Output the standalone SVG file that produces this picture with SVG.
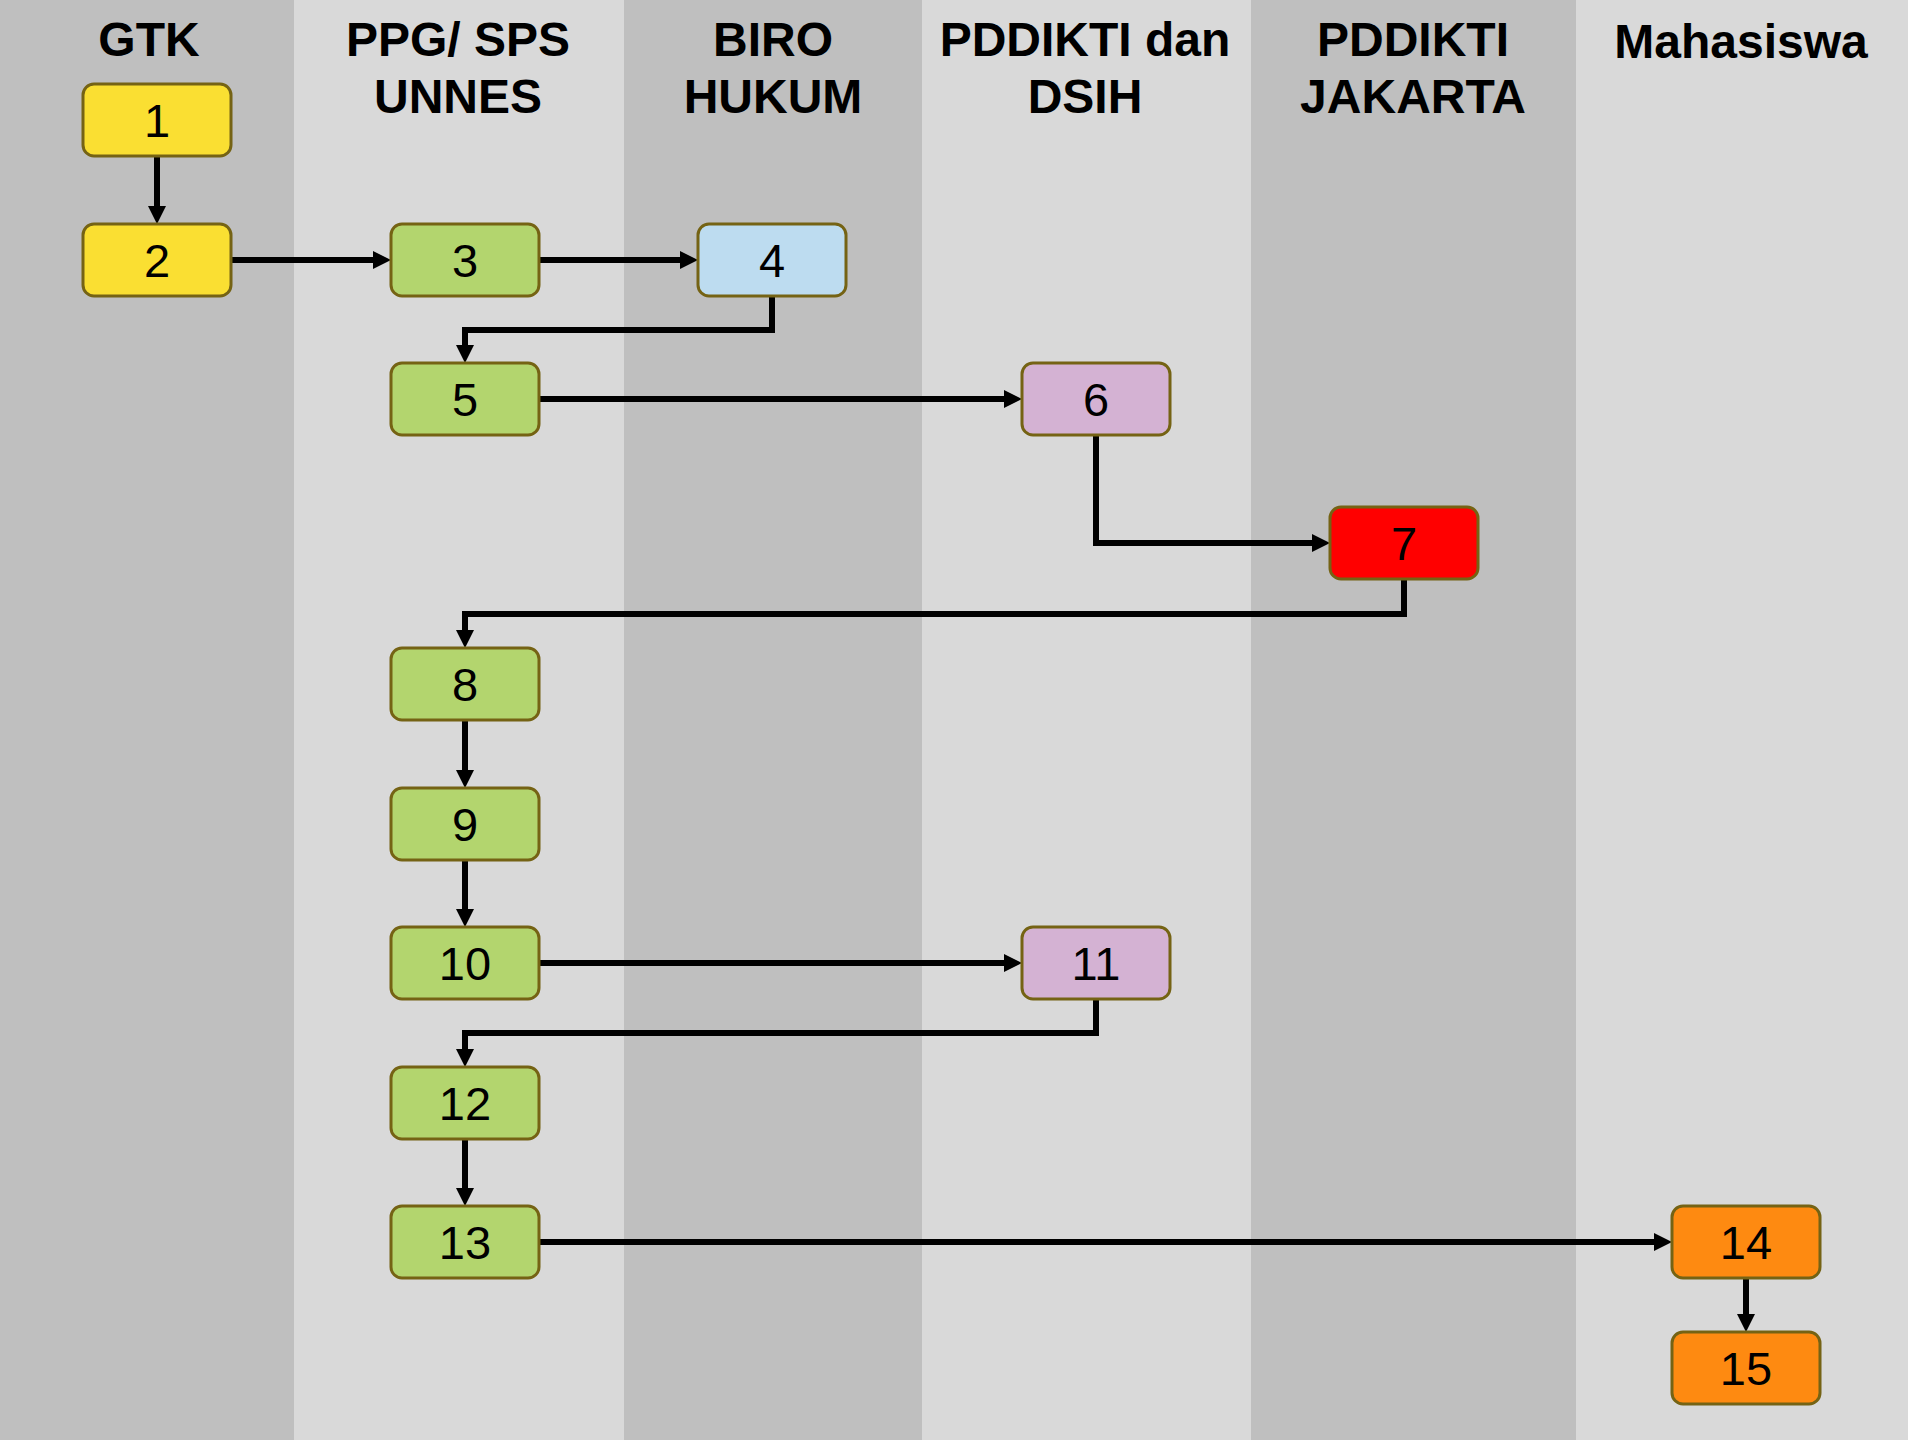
<svg xmlns="http://www.w3.org/2000/svg" width="1908" height="1440" viewBox="0 0 1908 1440">
<defs>
<style>
.lane-d{fill:#BFBFBF}
.lane-l{fill:#D9D9D9}
.hdr{font-family:"Liberation Sans",Arial,sans-serif;font-weight:bold;font-size:48px;fill:#000;text-anchor:middle}
.box{stroke:#756314;stroke-width:3}
.num{font-family:"Liberation Sans",Arial,sans-serif;font-size:47px;fill:#000;text-anchor:middle}
.yel{fill:#FADF32}
.grn{fill:#B3D56E}
.blu{fill:#BDDCF0}
.pur{fill:#D4B2D3}
.red{fill:#FF0000}
.org{fill:#FE8A11}
.con{fill:none;stroke:#000;stroke-width:6;stroke-linejoin:miter;marker-end:url(#ah)}
</style>
<marker id="ah" viewBox="0 0 18 18" markerWidth="18" markerHeight="18" refX="6" refY="9" orient="auto" markerUnits="userSpaceOnUse">
<path d="M0,0 L18,9 L0,18 Z" fill="#000"/>
</marker>
</defs>
<g id="lanes">
<rect class="lane-d" x="0" y="0" width="294" height="1440"/>
<rect class="lane-l" x="294" y="0" width="330" height="1440"/>
<rect class="lane-d" x="624" y="0" width="298" height="1440"/>
<rect class="lane-l" x="922" y="0" width="329" height="1440"/>
<rect class="lane-d" x="1251" y="0" width="325" height="1440"/>
<rect class="lane-l" x="1576" y="0" width="332" height="1440"/>
</g>
<g id="headers">
<text class="hdr" x="149" y="56">GTK</text>
<text class="hdr" x="458" y="56">PPG/ SPS</text>
<text class="hdr" x="458" y="113">UNNES</text>
<text class="hdr" x="773" y="56">BIRO</text>
<text class="hdr" x="773" y="113">HUKUM</text>
<text class="hdr" x="1085" y="56">PDDIKTI dan</text>
<text class="hdr" x="1085" y="113">DSIH</text>
<text class="hdr" x="1413" y="56">PDDIKTI</text>
<text class="hdr" x="1413" y="113">JAKARTA</text>
<text class="hdr" x="1741" y="58">Mahasiswa</text>
</g>
<g id="connectors">
<path class="con" d="M157,156 V212"/>
<path class="con" d="M231,260 H379"/>
<path class="con" d="M539,260 H686"/>
<path class="con" d="M772,296 V330 H465 V351"/>
<path class="con" d="M539,399 H1010"/>
<path class="con" d="M1096,435 V543 H1318"/>
<path class="con" d="M1404,579 V614 H465 V636"/>
<path class="con" d="M465,720 V776"/>
<path class="con" d="M465,860 V915"/>
<path class="con" d="M539,963 H1010"/>
<path class="con" d="M1096,999 V1033 H465 V1055"/>
<path class="con" d="M465,1139 V1194"/>
<path class="con" d="M539,1242 H1660"/>
<path class="con" d="M1746,1278 V1320"/>
</g>
<g id="n1"><rect class="box yel" x="83" y="84" width="148" height="72" rx="11"/><text class="num" x="157" y="137">1</text></g>
<g id="n2"><rect class="box yel" x="83" y="224" width="148" height="72" rx="11"/><text class="num" x="157" y="277">2</text></g>
<g id="n3"><rect class="box grn" x="391" y="224" width="148" height="72" rx="11"/><text class="num" x="465" y="277">3</text></g>
<g id="n4"><rect class="box blu" x="698" y="224" width="148" height="72" rx="11"/><text class="num" x="772" y="277">4</text></g>
<g id="n5"><rect class="box grn" x="391" y="363" width="148" height="72" rx="11"/><text class="num" x="465" y="416">5</text></g>
<g id="n6"><rect class="box pur" x="1022" y="363" width="148" height="72" rx="11"/><text class="num" x="1096" y="416">6</text></g>
<g id="n7"><rect class="box red" x="1330" y="507" width="148" height="72" rx="11"/><text class="num" x="1404" y="560">7</text></g>
<g id="n8"><rect class="box grn" x="391" y="648" width="148" height="72" rx="11"/><text class="num" x="465" y="701">8</text></g>
<g id="n9"><rect class="box grn" x="391" y="788" width="148" height="72" rx="11"/><text class="num" x="465" y="841">9</text></g>
<g id="n10"><rect class="box grn" x="391" y="927" width="148" height="72" rx="11"/><text class="num" x="465" y="980">10</text></g>
<g id="n11"><rect class="box pur" x="1022" y="927" width="148" height="72" rx="11"/><text class="num" x="1096" y="980">11</text></g>
<g id="n12"><rect class="box grn" x="391" y="1067" width="148" height="72" rx="11"/><text class="num" x="465" y="1120">12</text></g>
<g id="n13"><rect class="box grn" x="391" y="1206" width="148" height="72" rx="11"/><text class="num" x="465" y="1259">13</text></g>
<g id="n14"><rect class="box org" x="1672" y="1206" width="148" height="72" rx="11"/><text class="num" x="1746" y="1259">14</text></g>
<g id="n15"><rect class="box org" x="1672" y="1332" width="148" height="72" rx="11"/><text class="num" x="1746" y="1385">15</text></g>
</svg>
